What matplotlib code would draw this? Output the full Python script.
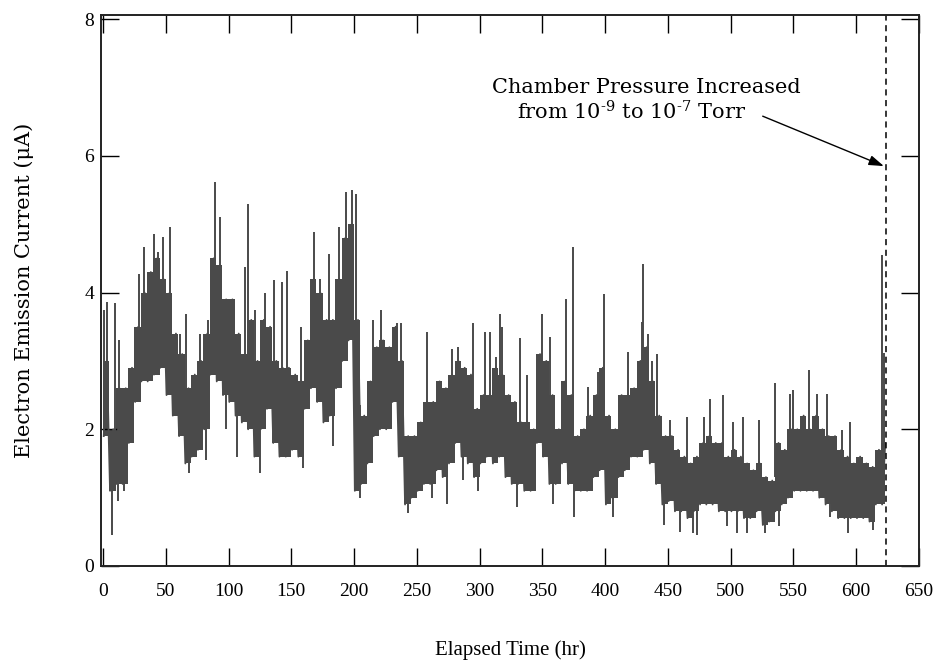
import numpy as np
import matplotlib
matplotlib.use("Agg")
import matplotlib.pyplot as plt

plt.rcParams['font.family'] = ['Liberation Serif', 'DejaVu Serif']
plt.rcParams['mathtext.fontset'] = 'custom'
plt.rcParams['mathtext.rm'] = 'DejaVu Serif'
plt.rcParams['mathtext.it'] = 'DejaVu Serif:italic'

# ---- data ----
bin_width_hr = 5.0
bin_start_hr = [5.0 * i for i in range(125)]  # 0 ... 620 hr
core_low = [1.9, 1.1, 1.2, 1.2, 1.8, 2.4, 2.7, 2.7, 2.8, 2.9,
            2.5, 2.2, 1.9, 1.5, 1.6, 1.7, 2.0, 2.8, 2.7, 2.5,
            2.4, 2.2, 2.1, 2.0, 1.6, 2.0, 2.3, 1.8, 1.6, 1.6,
            1.7, 1.6, 2.3, 2.6, 2.4, 2.1, 2.2, 2.6, 3.0, 3.3,
            1.1, 1.2, 1.5, 1.9, 2.0, 2.0, 2.4, 1.6, 0.9, 1.0,
            1.1, 1.2, 1.2, 1.4, 1.3, 1.5, 1.8, 1.6, 1.5, 1.3,
            1.5, 1.6, 1.5, 1.6, 1.3, 1.2, 1.2, 1.1, 1.1, 1.8,
            1.6, 1.2, 1.2, 1.5, 1.2, 1.1, 1.1, 1.1, 1.3, 1.4,
            0.9, 1.0, 1.3, 1.4, 1.6, 1.6, 1.7, 1.5, 1.2, 0.9,
            0.95, 0.8, 0.8, 0.7, 0.8, 0.9, 0.9, 0.9, 0.8, 0.8,
            0.8, 0.8, 0.7, 0.7, 0.8, 0.6, 0.65, 0.8, 0.9, 1.0,
            1.1, 1.1, 1.1, 1.1, 1.0, 0.9, 0.8, 0.7, 0.7, 0.7,
            0.7, 0.7, 0.65, 0.9, 0.9]
core_high = [3.0, 2.0, 2.6, 2.6, 2.9, 3.5, 4.0, 4.3, 4.5, 4.2,
             4.0, 3.4, 3.1, 2.6, 2.8, 3.0, 3.4, 4.5, 4.4, 3.9,
             3.9, 3.4, 3.1, 3.6, 3.0, 3.6, 3.5, 3.0, 2.9, 2.9,
             2.8, 2.7, 3.3, 4.2, 4.0, 3.6, 3.6, 4.2, 4.8, 5.0,
             3.6, 2.2, 2.7, 3.2, 3.3, 3.2, 3.5, 3.0, 1.9, 1.9,
             2.1, 2.4, 2.4, 2.7, 2.6, 2.8, 3.0, 2.9, 2.8, 2.3,
             2.5, 2.5, 2.9, 2.8, 2.5, 2.4, 2.1, 2.1, 2.0, 3.1,
             3.0, 2.5, 2.0, 2.7, 2.5, 1.9, 2.0, 2.2, 2.5, 2.9,
             2.2, 2.0, 2.5, 2.5, 2.6, 3.0, 3.2, 2.7, 2.2, 1.9,
             1.9, 1.7, 1.6, 1.5, 1.6, 1.8, 1.9, 1.8, 1.8, 1.6,
             1.7, 1.6, 1.5, 1.4, 1.5, 1.3, 1.25, 1.8, 1.7, 2.0,
             2.0, 2.2, 2.0, 2.2, 2.0, 1.9, 1.9, 1.7, 1.6, 1.5,
             1.6, 1.5, 1.45, 1.7, 1.8]

spike_hr = [1, 3, 7.5, 9.5, 12, 13, 17, 29, 32.6, 41, 44, 47.4, 53.3, 61.2, 66.5,
            68.6, 77, 81.9, 83.7, 89, 93.5, 98,
            106.5, 113.5, 115.7, 121, 125, 129, 136.4, 142.8, 146.2, 157.6, 159,
            165.3, 168.2, 172.7, 180.1, 183.3, 187.8, 193.9, 198.4, 201.9, 204.5,
            214.7, 221.3, 234, 237.2, 242.7, 257.8, 261.8, 273.7, 277.7, 283,
            287, 294.4, 299, 304.2, 308.2, 313,
            316.4, 317.7, 329.6, 332.3, 337.6, 349.5, 356.1, 358.8, 368.8, 374.1,
            375.5, 386.6, 394.5, 399.3, 406.5, 418.4,
            426.6, 429.2, 430.5, 434.5, 437.2, 441.1, 447.2, 451.7, 459.7, 465,
            470.3, 473, 479, 483.5, 493.6, 496.8, 501.6, 504.7, 510, 512.7, 522.8,
            527.6, 535.5, 538.2, 547.5, 549.3, 562, 568.7, 576.6, 579.3, 588.5,
            593.8, 595.2, 613.7, 620.3, 622.5]
spike_val = [3.75, 3.86, 0.45, 3.84, 0.95, 3.3, 1.1, 4.27, 4.67, 4.86, 4.6, 4.81, 4.96, 3.4, 3.69,
             1.36, 3.4, 1.55, 3.6, 5.61, 5.1, 2.0,
             1.6, 4.37, 5.3, 3.74, 1.36, 4.0, 4.18, 4.15, 4.32, 3.5, 1.43,
             3.84, 4.88, 4.2, 4.57, 1.75, 4.96, 5.47, 5.5, 5.44, 1.0,
             3.6, 3.74, 3.55, 3.55, 0.77, 3.42, 1.0, 0.9, 3.18, 3.2,
             1.26, 3.55, 1.1, 3.42, 3.42, 3.06,
             3.69, 3.5, 0.87, 3.33, 2.8, 3.69, 3.35, 0.9, 3.9, 4.67,
             0.72, 2.62, 2.84, 3.98, 0.72, 3.13,
             2.84, 3.57, 4.42, 3.4, 3.0, 3.1, 0.6, 2.13, 0.5, 2.18,
             0.48, 0.45, 2.18, 2.44, 2.5, 0.58, 2.11, 0.48, 2.18, 0.48, 2.13,
             0.48, 2.67, 0.58, 2.52, 2.57, 2.87, 2.52, 2.52, 0.72, 1.99,
             0.48, 2.11, 0.53, 4.55, 3.11]

pressure_change_hr = 623.5
x_ticks = list(range(0, 651, 50))
y_ticks = [0, 2, 4, 6, 8]

# ---- figure ----
W, H = 936, 661
fig = plt.figure(figsize=(W / 100, H / 100), dpi=100)
ax = fig.add_axes([101 / W, 1 - 566 / H, (919 - 101) / W, (566 - 15) / H])

trace = '#4a4a4a'

# core band: step fill between the low/high envelope of each 5-hr bin
edges = bin_start_hr + [pressure_change_hr - 0.8]
ax.fill_between(edges, core_low + [core_low[-1]], core_high + [core_high[-1]],
                step='post', color=trace, lw=0)

# zig-zag trace (low, high alternating) for the ragged edge texture
zx, zy = [], []
for s, lo, hi in zip(bin_start_hr, core_low, core_high):
    zx += [s + 0.6, s + bin_width_hr / 2 + 0.6]
    zy += [lo, hi]
ax.plot(zx, zy, color=trace, lw=1.3)

# spikes (single excursions above / below the core band)
bin_idx = [min(int(t // bin_width_hr), len(core_low) - 1) for t in spike_hr]
mid = [(core_low[i] + core_high[i]) / 2 for i in bin_idx]
ax.vlines(spike_hr, mid, spike_val, color=trace, lw=1.4)

# dashed line marking pressure change
ax.axvline(pressure_change_hr, color='black', lw=1.1, ls=(0, (4, 3)))

ax.annotate('', xy=(622.0, 5.85), xytext=(525.5, 6.58),
            arrowprops=dict(arrowstyle='-|>,head_length=0.9,head_width=0.3',
                            color='black', lw=1.0, shrinkA=0, shrinkB=0))
ax.text(433.0, 7.0, 'Chamber Pressure Increased', ha='center', va='center',
        fontsize=15, family='DejaVu Serif')
ax.text(421.0, 6.64, 'from 10$^{\u2010 9}$ to 10$^{\u2010 7}$ Torr', ha='center', va='center',
        fontsize=15, family='DejaVu Serif')

ax.set_xlim(-1.6, 650)
ax.set_ylim(0, 8.06)
ax.set_xticks(x_ticks)
ax.set_yticks(y_ticks)
ax.tick_params(direction='in', length=13, width=1.0, top=True, right=True,
               labelsize=14, color='black')
ax.tick_params(axis='x', pad=12)
ax.tick_params(axis='y', pad=5)
for sp in ax.spines.values():
    sp.set_linewidth(1.4)
    sp.set_color('#222222')

ax.set_xlabel('Elapsed Time (hr)', fontsize=15, labelpad=29)
ax.set_ylabel('Electron Emission Current (μA)', fontsize=15, labelpad=36,
              family='DejaVu Serif')

fig.savefig('out.png', dpi=100)
